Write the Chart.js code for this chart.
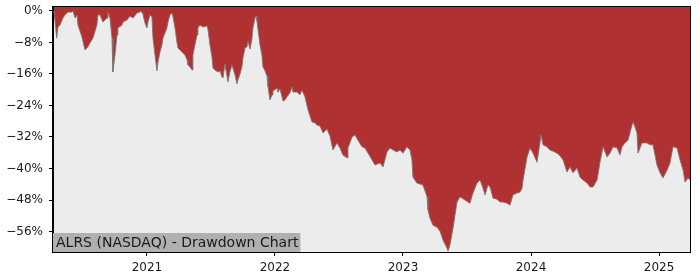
<!DOCTYPE html>
<html>
<head>
<meta charset="utf-8">
<script src="https://cdn.jsdelivr.net/npm/chart.js@4/dist/chart.umd.min.js"></script>
<style>
  html, body { margin: 0; padding: 0; background: #fff; }
  #wrap { width: 700px; height: 280px; position: relative; }
</style>
</head>
<body>
<div id="wrap"><canvas id="dd_canvas" width="700" height="280"></canvas></div>
<script>
const TITLE = 'ALRS (NASDAQ) - Drawdown Chart'

// time as decimal years, drawdown in percent
const years = [
  2020.273, 2020.281, 2020.295, 2020.305, 2020.320, 2020.344, 2020.359, 2020.383, 2020.414, 2020.422,
  2020.438, 2020.453, 2020.461, 2020.492, 2020.516, 2020.539, 2020.555, 2020.578, 2020.609, 2020.617,
  2020.633, 2020.656, 2020.688, 2020.695, 2020.711, 2020.727, 2020.734, 2020.750, 2020.766, 2020.773,
  2020.805, 2020.813, 2020.844, 2020.867, 2020.891, 2020.922, 2020.945, 2020.953, 2020.969, 2020.984,
  2021.000, 2021.008, 2021.023, 2021.039, 2021.047, 2021.063, 2021.078, 2021.086, 2021.102, 2021.117,
  2021.125, 2021.156, 2021.164, 2021.180, 2021.195, 2021.203, 2021.219, 2021.234, 2021.242, 2021.258,
  2021.281, 2021.297, 2021.313, 2021.320, 2021.336, 2021.352, 2021.359, 2021.375, 2021.391, 2021.398,
  2021.414, 2021.438, 2021.469, 2021.477, 2021.492, 2021.508, 2021.516, 2021.531, 2021.555, 2021.570,
  2021.586, 2021.594, 2021.609, 2021.633, 2021.648, 2021.664, 2021.688, 2021.703, 2021.711, 2021.727,
  2021.742, 2021.750, 2021.766, 2021.781, 2021.789, 2021.805, 2021.820, 2021.828, 2021.844, 2021.852,
  2021.859, 2021.867, 2021.883, 2021.898, 2021.906, 2021.922, 2021.938, 2021.945, 2021.961, 2021.977,
  2021.984, 2022.016, 2022.023, 2022.039, 2022.055, 2022.063, 2022.078, 2022.094, 2022.117, 2022.133,
  2022.141, 2022.172, 2022.195, 2022.211, 2022.234, 2022.258, 2022.289, 2022.313, 2022.328, 2022.352,
  2022.375, 2022.406, 2022.430, 2022.453, 2022.484, 2022.508, 2022.531, 2022.563, 2022.570, 2022.602,
  2022.625, 2022.648, 2022.680, 2022.703, 2022.727, 2022.758, 2022.781, 2022.820, 2022.844, 2022.875,
  2022.898, 2022.922, 2022.953, 2022.977, 2023.000, 2023.031, 2023.055, 2023.070, 2023.078, 2023.109,
  2023.156, 2023.188, 2023.195, 2023.211, 2023.234, 2023.266, 2023.289, 2023.313, 2023.344, 2023.352,
  2023.367, 2023.391, 2023.422, 2023.445, 2023.484, 2023.523, 2023.547, 2023.578, 2023.602, 2023.625,
  2023.641, 2023.664, 2023.680, 2023.703, 2023.734, 2023.758, 2023.781, 2023.813, 2023.836, 2023.859,
  2023.891, 2023.914, 2023.930, 2023.938, 2023.969, 2023.992, 2024.016, 2024.047, 2024.070, 2024.078,
  2024.094, 2024.125, 2024.148, 2024.172, 2024.203, 2024.227, 2024.250, 2024.281, 2024.305, 2024.328,
  2024.359, 2024.383, 2024.406, 2024.438, 2024.461, 2024.484, 2024.516, 2024.539, 2024.563, 2024.594,
  2024.617, 2024.641, 2024.672, 2024.695, 2024.711, 2024.734, 2024.758, 2024.789, 2024.797, 2024.813,
  2024.828, 2024.836, 2024.867, 2024.906, 2024.930, 2024.953, 2024.984, 2025.008, 2025.031, 2025.063,
  2025.086, 2025.109, 2025.141, 2025.164, 2025.188, 2025.203, 2025.227, 2025.242
]

const drawdown = [
  0, -2.3, -6.9, -4.1, -3.6, -1.8, -1.0, -0.3, -0.3, 0,
  -1.8, -1.0, -3.6, -6.6, -9.9, -9.1, -8.1, -6.9, -3.6, -1.0,
  -1.0, -2.8, -1.8, -0.3, -1.8, -6.9, -15.5, -11.2, -6.1, -4.3,
  -3.6, -2.8, -2.3, -1.3, -1.8, -0.5, -0.3, 0, -0.8, -3.0,
  -4.3, -2.8, -1.0, -1.5, -6.9, -11.2, -15.2, -13.0, -10.4, -8.6,
  -6.9, -4.3, -2.8, -1.0, -0.5, -1.5, -4.3, -7.9, -9.4, -9.9,
  -10.7, -11.2, -12.4, -13.7, -14.2, -15.0, -11.2, -8.6, -6.1, -4.3,
  -3.6, -4.1, -3.8, -4.8, -8.6, -11.7, -14.5, -15.0, -15.5, -15.2,
  -16.8, -17.0, -13.5, -18.0, -15.5, -13.7, -16.3, -18.5, -17.5, -16.0,
  -14.2, -11.9, -9.4, -9.1, -7.6, -9.7, -7.1, -4.3, -1.8, -1.3,
  -2.5, -4.6, -8.6, -11.2, -14.2, -15.2, -16.5, -19.1, -22.6, -21.3,
  -20.3, -19.6, -20.6, -19.8, -21.8, -22.9, -22.6, -21.8, -20.8, -19.3,
  -20.6, -20.6, -21.3, -20.1, -21.8, -25.1, -28.2, -28.4, -29.0, -29.2,
  -31.0, -30.0, -31.8, -35.3, -33.5, -34.8, -36.6, -37.3, -34.8, -32.0,
  -31.5, -32.8, -34.5, -34.8, -36.1, -37.8, -39.1, -38.6, -39.6, -35.8,
  -34.8, -35.3, -35.8, -35.3, -36.1, -34.5, -35.3, -37.8, -42.2, -43.7,
  -44.2, -47.2, -50.5, -52.6, -54.4, -54.9, -55.9, -58.2, -60.2, -61.0,
  -59.4, -55.1, -48.5, -47.2, -48.0, -48.8, -46.2, -43.7, -42.9, -45.0,
  -46.7, -44.2, -44.7, -47.5, -47.8, -48.5, -48.5, -48.8, -49.3, -46.7,
  -46.2, -46.0, -45.0, -42.9, -37.1, -34.8, -36.1, -38.4, -33.5, -31.5,
  -34.0, -34.5, -35.3, -35.6, -36.1, -36.8, -37.8, -40.9, -39.6, -41.1,
  -39.9, -42.2, -42.9, -43.7, -44.7, -44.7, -42.9, -38.4, -34.5, -37.1,
  -36.1, -34.5, -34.8, -36.6, -34.5, -33.5, -32.8, -29.0, -28.2, -29.5,
  -31.0, -36.1, -33.5, -33.5, -34.0, -34.0, -39.1, -41.1, -42.4, -40.4,
  -38.6, -34.5, -34.8, -37.8, -40.4, -43.4, -42.4, -42.9
]

const xTicks = [2021, 2022, 2023, 2024, 2025]
const yTicks = [0, -8, -16, -24, -32, -40, -48, -56]

const FONT = { family: 'DejaVu Sans', size: 12 }
const TEXT_COLOR = '#1a1a1a'

// plot background, frame and the label box at lower left
const framePlugin = {
  id: 'frame',
  beforeDraw(chart) {
    let { ctx, chartArea: a } = chart
    ctx.save()
    ctx.fillStyle = '#ececec'
    ctx.fillRect(a.left, a.top, a.right - a.left, a.bottom - a.top)
    ctx.restore()
  },
  afterDatasetsDraw(chart) {
    let { ctx, chartArea: a } = chart
    ctx.save()
    ctx.font = '14px "DejaVu Sans"'
    let w = ctx.measureText(TITLE).width
    ctx.fillStyle = '#b0b0b0'
    ctx.fillRect(a.left, a.bottom - 19, w + 5, 19)
    ctx.fillStyle = TEXT_COLOR
    ctx.textBaseline = 'middle'
    ctx.fillText(TITLE, a.left + 3, a.bottom - 9)
    ctx.strokeStyle = '#000'
    ctx.lineWidth = 1
    ctx.strokeRect(a.left - 0.5, a.top - 0.5, a.right - a.left + 1, a.bottom - a.top + 1)
    ctx.restore()
  }
}

let ctx = document.getElementById('dd_canvas').getContext('2d')
let chart = new Chart(ctx, {
  type: 'line',
  data: {
    datasets: [{
      data: years.map((x, i) => ({ x: x, y: drawdown[i] })),
      borderColor: 'rgba(120,120,120,0.9)',
      borderWidth: 1,
      backgroundColor: '#b03131',
      fill: 'end',
      pointRadius: 0,
      tension: 0
    }]
  },
  options: {
    responsive: false,
    animation: false,
    devicePixelRatio: 1,
    layout: { padding: { top: 7, right: 10, left: 0, bottom: 0 } },
    plugins: { legend: { display: false }, tooltip: { enabled: false } },
    scales: {
      x: {
        type: 'linear',
        min: 2020.266,
        max: 2025.242,
        afterBuildTicks: s => { s.ticks = xTicks.map(v => ({ value: v })) },
        afterFit: s => { s.height = 28; s.paddingLeft = 0; s.paddingRight = 0 },
        grid: { drawOnChartArea: false, tickLength: 4, color: '#000' },
        border: { color: '#000' },
        ticks: {
          font: FONT, color: TEXT_COLOR, padding: 5, maxRotation: 0,
          callback: v => String(v)
        }
      },
      y: {
        min: -61.2,
        max: 1.0,
        afterBuildTicks: s => { s.ticks = yTicks.map(v => ({ value: v })) },
        afterFit: s => { s.width = 53; s.paddingTop = 0; s.paddingBottom = 0 },
        grid: { drawOnChartArea: false, tickLength: 4, color: '#000' },
        border: { color: '#000' },
        ticks: {
          font: FONT, color: TEXT_COLOR, padding: 6,
          callback: v => v === 0 ? '0%' : '\u2212' + Math.abs(v) + '%'
        }
      }
    }
  },
  plugins: [framePlugin]
})
</script>
</body>
</html>
